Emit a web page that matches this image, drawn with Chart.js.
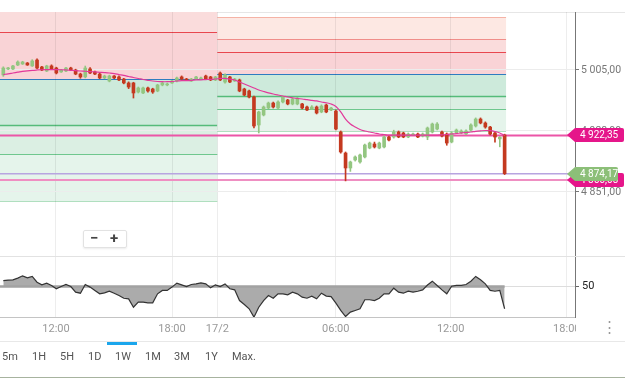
<!DOCTYPE html>
<html><head><meta charset="utf-8">
<script src="https://cdn.jsdelivr.net/npm/chart.js@4.4.1/dist/chart.umd.min.js"></script>
<style>
html,body{margin:0;padding:0;background:#fff;width:625px;height:378px;overflow:hidden;font-family:Roboto,'Open Sans',sans-serif;}
#wrap{position:relative;width:625px;height:378px;}
canvas{position:absolute;left:0;}
#c1{top:0;}
#c2{top:256px;}
.hl{position:absolute;left:0;width:625px;height:1px;}
.btn{position:absolute;top:350px;font-size:11px;color:#555;line-height:13px;}
#zoomBox{position:absolute;left:83px;top:230px;width:42px;height:16px;border:1px solid #e2e2e2;background:#fff;border-radius:2px;box-shadow:0 1px 2px rgba(0,0,0,0.08);}
#zoomBox span{position:absolute;top:-1px;font-size:15px;font-weight:bold;color:#444;line-height:17px;}
</style></head>
<body><div id="wrap">
<div class="hl" style="top:12px;background:#e6e6e6;"></div>
<canvas id="c1" width="625" height="256"></canvas>
<canvas id="c2" width="625" height="86"></canvas>
<div class="hl" style="top:256px;background:#e2e2e2;"></div>
<div id="zoomBox"><span style="left:6px;">&#8722;</span><span style="left:26px;">+</span></div>
<div style="position:absolute;left:602px;top:318px;font-size:15px;color:#999;">&#8942;</div>
<div class="hl" style="top:341px;background:#e8e8e8;"></div>
<div style="position:absolute;left:107px;top:342px;width:30px;height:3px;background:#1ba6ec;"></div>
<div id="btns"></div>
<div class="hl" style="top:377px;background:#a7b39f;"></div>
</div>
<script>
// ---------- DATA ----------
const open = [
4998.7,5006.3,5006.3,5011.3,5012.6,5013.8,5010.1,5017.6,5008.8,5003.7,
5010.1,5007.5,5002.5,5003.7,5007.5,5005.0,4999.9,4996.2,5006.3,5002.5,
4999.9,4994.9,4991.1,4997.4,4996.2,4993.6,4988.6,4988.6,4977.2,4976.0,
4982.3,4981.0,4978.5,4986.1,4986.1,4988.6,4991.1,4996.2,4993.6,4991.1,
4993.6,4993.6,4997.4,4996.2,4992.4,5001.2,4989.8,4996.2,4991.1,4992.4,
4981.0,4978.5,4970.9,4935.6,4948.2,4957.0,4963.3,4957.0,4964.6,4967.1,
4962.1,4962.1,4962.1,4958.3,4955.8,4958.3,4952.0,4960.8,4954.5,4953.2,
4926.7,4900.2,4881.3,4891.4,4888.9,4895.2,4906.5,4911.6,4906.5,4907.8,
4920.4,4920.4,4926.7,4925.5,4920.4,4922.9,4924.2,4921.7,4920.4,4926.7,
4930.5,4926.7,4924.2,4914.1,4925.5,4925.5,4924.2,4929.2,4934.3,4943.1,
4938.1,4933.0,4925.5,4918.0,4922.9];
const close = [
5007.5,5007.5,5010.1,5015.1,5015.1,5011.3,5016.4,5007.5,5005.0,5010.1,
5006.3,5001.2,5005.0,5007.5,5005.0,4999.9,4996.2,5007.5,5001.2,4999.9,
4994.9,4997.4,4997.4,4994.9,4992.4,4988.6,4983.5,4976.0,4982.3,4982.3,
4978.5,4977.2,4986.1,4988.6,4987.3,4991.1,4994.9,4993.6,4992.4,4993.6,
4996.2,4994.9,4993.6,4992.4,4996.2,4992.4,4998.7,4989.8,4993.6,4978.5,
4973.4,4970.9,4934.3,4952.0,4958.3,4963.3,4958.3,4964.6,4970.9,4962.1,
4968.4,4969.6,4957.0,4954.5,4958.3,4950.7,4959.5,4952.0,4957.0,4930.5,
4901.5,4881.3,4888.9,4895.2,4897.7,4910.3,4912.8,4907.8,4912.8,4920.4,
4916.6,4926.7,4920.4,4920.4,4924.2,4924.2,4920.4,4924.2,4931.8,4936.8,
4936.8,4921.7,4912.8,4925.5,4929.2,4928.0,4928.0,4935.6,4943.1,4938.1,
4933.0,4924.2,4920.4,4920.0,4874.17];
const high = [
5009.0,5008.5,5011.0,5016.5,5016.0,5014.5,5018.0,5019.0,5009.5,5011.0,
5011.5,5008.5,5005.8,5008.3,5008.5,5006.0,5001.0,5010.0,5008.0,5003.5,
5001.0,4998.5,4998.5,4998.0,4997.5,4994.5,4990.0,4989.5,4983.5,4983.5,
4983.5,4982.0,4987.0,4989.5,4988.5,4992.0,4996.0,4997.5,4994.5,4994.5,
4997.0,4996.0,4998.5,4997.0,4997.0,5002.5,5000.0,4997.0,4994.5,4993.5,
4982.0,4979.5,4972.0,4953.0,4959.5,4964.5,4964.5,4966.0,4972.0,4968.0,
4969.5,4970.5,4963.0,4959.5,4960.0,4959.5,4961.0,4962.0,4958.0,4954.5,
4928.0,4901.5,4890.0,4896.5,4899.0,4911.5,4914.0,4914.0,4914.0,4922.0,
4921.5,4929.0,4928.0,4926.5,4925.5,4925.5,4925.5,4925.5,4933.0,4938.0,
4938.5,4928.0,4925.5,4927.0,4930.5,4929.5,4929.5,4937.0,4944.5,4944.5,
4939.5,4934.0,4926.5,4921.0,4924.0];
const low = [
4997.0,5005.5,5005.5,5010.5,5012.0,5010.8,5009.5,5006.5,5004.0,5003.0,
5005.5,5000.0,5001.8,5003.0,5004.3,4999.0,4994.5,4995.0,5000.5,4999.0,
4994.0,4994.0,4990.0,4994.0,4991.5,4987.5,4981.5,4969.6,4976.0,4975.0,
4977.0,4975.5,4977.5,4985.0,4985.0,4988.0,4990.0,4993.0,4991.5,4990.5,
4993.0,4993.0,4993.0,4991.5,4991.5,4991.5,4988.5,4989.0,4990.5,4977.5,
4972.5,4969.6,4932.0,4925.5,4947.0,4956.0,4957.0,4956.0,4963.5,4961.0,
4961.0,4961.0,4956.0,4953.5,4955.0,4949.5,4951.0,4951.0,4953.5,4929.5,
4900.0,4865.0,4877.0,4890.0,4887.5,4894.0,4905.5,4906.5,4905.5,4906.5,
4915.5,4919.0,4919.5,4919.5,4919.5,4922.0,4919.5,4920.5,4917.0,4925.5,
4929.5,4920.5,4910.0,4913.0,4924.5,4924.5,4923.5,4928.0,4933.0,4937.0,
4931.5,4923.0,4914.0,4908.0,4873.0];
const ma = [
4999.3,5000.2,5001.2,5002.2,5003.2,5004.0,5004.6,5005.0,5005.3,5005.4,
5005.4,5005.4,5005.3,5005.0,5004.6,5004.2,5003.7,5003.4,5003.0,5002.5,
5002.1,5001.7,5001.2,5000.5,4999.3,4998.1,4996.8,4995.5,4994.3,4993.0,
4992.0,4991.1,4990.5,4990.2,4990.2,4990.5,4991.1,4991.5,4991.7,4992.0,
4992.4,4992.6,4992.9,4993.1,4993.6,4994.3,4994.3,4993.4,4992.4,4989.8,
4987.3,4984.8,4982.3,4979.7,4977.9,4976.2,4974.7,4973.4,4972.2,4970.9,
4969.9,4969.0,4968.4,4967.5,4966.7,4965.9,4964.6,4963.6,4962.1,4958.9,
4952.0,4943.1,4936.8,4933.0,4929.9,4928.0,4926.7,4925.5,4924.2,4923.6,
4922.9,4922.9,4922.9,4922.9,4922.9,4922.9,4922.9,4922.9,4922.9,4922.9,
4922.9,4923.2,4923.6,4924.2,4924.8,4925.5,4926.1,4926.7,4927.6,4928.2,
4928.6,4928.4,4927.3,4925.5,4922.35];
const osc = [
53.9,54.2,54.4,55.5,57.0,55.7,56.6,52.8,51.1,52.2,
50.7,48.5,50.0,51.3,50.0,46.3,45.6,51.3,49.6,47.4,
45.2,45.8,46.9,45.6,44.1,42.3,41.9,36.4,39.7,39.7,
39.3,39.3,45.2,47.4,47.4,49.6,52.2,51.1,50.0,51.3,
51.7,52.4,51.7,49.1,51.1,50.0,51.7,48.5,47.8,40.8,
38.2,35.4,29.9,36.4,40.8,44.1,42.3,45.2,45.2,44.5,
46.3,45.2,43.0,42.3,43.7,41.9,45.6,43.7,43.4,39.1,
34.3,30.3,33.2,34.3,35.4,41.3,41.3,40.8,42.3,45.2,
45.2,48.9,46.3,45.6,46.9,46.3,46.9,47.8,51.0,53.5,
50.7,47.8,45.2,50.2,50.7,50.7,51.3,53.5,56.6,54.4,
51.7,47.4,46.9,47.4,35.4];
const priceTicks = [4851, 4928, 5005];
const oscTicks = [50];
const oscMid = 50;
const xTickLabels = ['12:00','18:00','17/2','06:00','12:00','18:00'];
const xTickAt = [10.93, 35.0, 44.4, 68.96, 92.8, 116.9];
const zoneFrom = [-5, 44.4];
const zoneTo = [44.4, 104.3];
const zoneLevelsA = [5147.7, 5089.6, 5053.0, 4993.6, 4935.6, 4898.9, 4839.6];
const zoneLevelsB = [5071.9, 5044.1, 5027.7, 4999.9, 4972.2, 4955.8, 4928.0];
const hLevels = [4866.05, 4874.17, 4922.35];
const tagLevels = [4866.05, 4874.17, 4922.35];
const buttons = ['5m','1H','5H','1D','1W','1M','3M','1Y','Max.'];

// ---------- STYLE ----------
const btnLeft = [2,32,60,88,115,145,174,205,232];
const bandFill = ['#fde8e3','#fadcdc','#f9d3d6','#cdeadb','#dbefe3','#e5f4eb'];
const levelColor = ['#f5b3a6','#f08e8a','#e8474f','#2f7cc0','#55bb7a','#6fc78e','#b0dfbf'];
const hColor = ['#ef8fc2','#b8a4e0','#ec55a7'];
const hWidth = [2,1.5,2];
const tagColor = ['#e5168a','#8cbf78','#e5168a'];
const tagRight = [624,618,624];
const upColor = '#93c681', downColor = '#c4391f';
const XMIN = -0.685, XMAX = 118.6;
const FONT = "Roboto, 'Open Sans', sans-serif";

const fmt = v => { const s = v.toFixed(2).split('.'); return s[0].replace(/\B(?=(\d{3})+(?!\d))/g,' ') + ',' + s[1]; };
const idx = open.map((_, i) => i);
const cols = idx.map(i => close[i] >= open[i] ? upColor : downColor);

document.getElementById('btns').innerHTML = buttons.map((b,i)=>`<div class="btn" style="left:${btnLeft[i]}px">${b}</div>`).join('');

function fitY(s){ s.width = 50; s.paddingTop = 0; s.paddingBottom = 0; }

const zonesPlugin = {
  id: 'zones',
  beforeDraw(chart){
    const {ctx, chartArea:a, scales:{x, y}} = chart;
    ctx.save();
    ctx.beginPath(); ctx.rect(a.left, a.top, a.right-a.left, a.bottom-a.top); ctx.clip();
    [zoneLevelsA, zoneLevelsB].forEach((lv, z) => {
      const x0 = x.getPixelForValue(zoneFrom[z]), x1 = x.getPixelForValue(zoneTo[z]);
      for (let k = 0; k < lv.length-1; k++){
        const y0 = y.getPixelForValue(lv[k]), y1 = y.getPixelForValue(lv[k+1]);
        ctx.fillStyle = bandFill[k];
        ctx.fillRect(x0, y0, x1-x0, y1-y0);
      }
      lv.forEach((v, k) => {
        const yy = Math.round(y.getPixelForValue(v)) + 0.5;
        ctx.strokeStyle = levelColor[k]; ctx.lineWidth = (k===4)?1.6:1;
        ctx.beginPath(); ctx.moveTo(x0, yy); ctx.lineTo(x1, yy); ctx.stroke();
      });
    });
    ctx.restore();
  },
  beforeDatasetsDraw(chart){
    const {ctx, chartArea:a, scales:{y}} = chart;
    ctx.save();
    hLevels.forEach((v,k) => {
      const yy = y.getPixelForValue(v);
      ctx.strokeStyle = hColor[k]; ctx.lineWidth = hWidth[k];
      ctx.beginPath(); ctx.moveTo(a.left, yy); ctx.lineTo(a.right, yy); ctx.stroke();
    });
    ctx.restore();
  },
  afterDraw(chart){
    const {ctx, chartArea:a, scales:{y}} = chart;
    ctx.save();
    tagLevels.forEach((v,k) => {
      const yy = Math.round(y.getPixelForValue(v));
      const r = tagRight[k], L = a.right - 8;
      ctx.beginPath();
      ctx.moveTo(L, yy);
      ctx.lineTo(a.right, yy-7);
      ctx.lineTo(r-2, yy-7);
      ctx.quadraticCurveTo(r, yy-7, r, yy-5);
      ctx.lineTo(r, yy+5);
      ctx.quadraticCurveTo(r, yy+7, r-2, yy+7);
      ctx.lineTo(a.right, yy+7);
      ctx.closePath();
      ctx.fillStyle = tagColor[k]; ctx.fill();
      ctx.fillStyle = '#fff'; ctx.font = '10px ' + FONT; ctx.textBaseline = 'middle'; ctx.textAlign='left';
      ctx.fillText(fmt(v), a.right + 5, yy + 0.5);
    });
    ctx.restore();
  }
};

new Chart(document.getElementById('c1'), {
  type: 'bar',
  data: { datasets: [
    { type:'line', data: idx.map(i=>({x:i, y:ma[i]})), borderColor:'#e2399a', borderWidth:1.2, pointRadius:0, tension:0.4, order:0 },
    { type:'bar', data: idx.map(i=>({x:i, y:[open[i], close[i]]})), backgroundColor: cols, barThickness:3, grouped:false, minBarLength:1, order:1 },
    { type:'bar', data: idx.map(i=>({x:i, y:[low[i], high[i]]})), backgroundColor: cols, barThickness:1, grouped:false, order:2 }
  ]},
  options: {
    responsive:false, animation:false, events:[],
    layout:{ padding:{ top:12, left:0, right:0, bottom:0 } },
    plugins:{ legend:{display:false}, tooltip:{enabled:false} },
    scales:{
      x:{ type:'linear', min:XMIN, max:XMAX, offset:false,
          grid:{ color:'rgba(0,0,0,0.07)', drawTicks:false, offset:false },
          border:{ display:false },
          ticks:{ display:false },
          afterBuildTicks(s){ s.ticks = xTickAt.map(v=>({value:v})); },
          afterFit(s){ s.height = 0; s.paddingLeft = 0; s.paddingRight = 0; } },
      y:{ position:'right', min:4770.2, max:5078.2,
          grid:{ color:'#ececec', tickLength:4, tickColor:'#777', drawTicks:true },
          border:{ color:'#777' },
          ticks:{ color:'#777', font:{ size:10.5, family:FONT }, padding:2, autoSkip:false, callback:v=>fmt(v) },
          afterBuildTicks(s){ s.ticks = priceTicks.map(v=>({value:v})); },
          afterFit: fitY }
    }
  },
  plugins:[zonesPlugin]
});

const oscPlugin = {
  id:'osc',
  beforeDatasetDraw(chart, args){
    if (args.index !== 0) return;
    const {ctx, chartArea:a, scales:{x, y}} = chart;
    const yy = y.getPixelForValue(oscMid);
    ctx.save();
    ctx.strokeStyle = '#a2a2a2'; ctx.lineWidth = 2.5;
    ctx.beginPath(); ctx.moveTo(a.left, yy); ctx.lineTo(x.getPixelForValue(osc.length-1), yy); ctx.stroke();
    ctx.restore();
  },
  afterDraw(chart){
    const {ctx, chartArea:a} = chart;
    ctx.save(); ctx.fillStyle = '#fff';
    ctx.fillRect(a.right + 1, a.bottom + 1, 24, chart.height - a.bottom - 1);
    ctx.restore();
  }
};

new Chart(document.getElementById('c2'), {
  type: 'line',
  data: { datasets: [
    { data: idx.map(i=>({x:i, y:osc[i]})), borderColor:'#333', borderWidth:1.2, pointRadius:0, tension:0,
      fill:{ value: oscMid }, backgroundColor:'#ababab' }
  ]},
  options: {
    responsive:false, animation:false, events:[],
    layout:{ padding:0 },
    plugins:{ legend:{display:false}, tooltip:{enabled:false} },
    scales:{
      x:{ type:'linear', min:XMIN, max:XMAX, offset:false,
          grid:{ color:'rgba(0,0,0,0.07)', drawTicks:false },
          border:{ color:'#c4c4c4' },
          ticks:{ color:'#999', font:{ size:11, family:FONT }, padding:6, autoSkip:false, maxRotation:0,
                  callback:(v, i) => xTickLabels[i] },
          afterBuildTicks(s){ s.ticks = xTickAt.map(v=>({value:v})); },
          afterFit(s){ s.height = 25; s.paddingLeft = 0; s.paddingRight = 0; } },
      y:{ position:'right', min:30, max:70,
          grid:{ color:'#dddddd', tickLength:4, tickColor:'#666', drawTicks:true },
          border:{ color:'#777' },
          ticks:{ color:'#222', font:{ size:11, family:FONT }, padding:3, autoSkip:false },
          afterBuildTicks(s){ s.ticks = oscTicks.map(v=>({value:v})); },
          afterFit: fitY }
    }
  },
  plugins:[oscPlugin]
});
</script>
</body></html>
